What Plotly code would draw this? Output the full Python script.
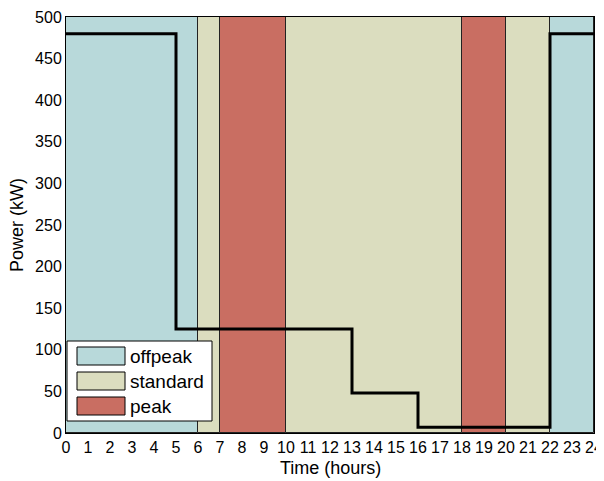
import plotly.graph_objects as go

# Tariff periods (start hour, end hour, category)
period_starts = [0, 6, 7, 10, 18, 20, 22]
period_ends = [6, 7, 10, 18, 20, 22, 24]
period_types = ["offpeak", "standard", "peak", "standard", "peak", "standard", "offpeak"]
categories = ["offpeak", "standard", "peak"]
colors = {"offpeak": "#b8d9da", "standard": "#dbddbf", "peak": "#c96e62"}

# Power step profile
step_hours = [0, 5, 13, 16, 22, 24]
step_power = [480, 125, 48, 7, 480, 480]

ymax = 500
x_ticks = list(range(0, 25))
y_ticks = list(range(0, 501, 50))

OFF = 8  # page body margin
W, H = 596, 473
# plot area in window pixels: x 66..594, y 17..433
L, R, T = 66 - OFF, W - (594 - OFF), 17 - OFF
B = H - (433 - OFF)
pw, ph = W - L - R, H - T - B

fig = go.Figure()
for cat in categories:
    xs, ws = [], []
    for s, e, t in zip(period_starts, period_ends, period_types):
        if t == cat:
            xs.append((s + e) / 2)
            ws.append(e - s)
    fig.add_trace(go.Bar(x=xs, y=[ymax] * len(xs), width=ws, base=0,
                         marker=dict(color=colors[cat], line=dict(color="#222", width=1)),
                         name=cat, showlegend=False, hoverinfo="skip"))

fig.add_trace(go.Scatter(x=step_hours, y=step_power, mode="lines",
                         line=dict(color="black", width=3, shape="hv"),
                         showlegend=False))

def px2x(px):
    return (px - OFF - L) / pw

def py2y(py):
    return (H - B - (py - OFF)) / ph

shapes = []
annotations = []
# legend box
shapes.append(dict(type="rect", xref="paper", yref="paper",
                   x0=px2x(67), x1=px2x(212), y0=py2y(421), y1=py2y(341),
                   fillcolor="white", line=dict(color="black", width=1)))
row_y = [356, 381, 406]
for cat, ry in zip(categories, row_y):
    shapes.append(dict(type="rect", xref="paper", yref="paper",
                       x0=px2x(77), x1=px2x(125), y0=py2y(ry + 9), y1=py2y(ry - 9),
                       fillcolor=colors[cat], line=dict(color="black", width=1)))
    annotations.append(dict(xref="paper", yref="paper", x=px2x(128), y=py2y(ry),
                            text=cat, showarrow=False, xanchor="left", yanchor="middle",
                            font=dict(size=19, color="black")))

# axis titles
annotations.append(dict(xref="paper", yref="paper", x=0.5, y=py2y(468),
                        text="Time (hours)", showarrow=False, xanchor="center", yanchor="middle",
                        font=dict(size=18, color="black")))
annotations.append(dict(xref="paper", yref="paper", x=px2x(17), y=0.5, textangle=-90,
                        text="Power (kW)", showarrow=False, xanchor="center", yanchor="middle",
                        font=dict(size=18, color="black")))

fig.update_layout(
    width=W, height=H,
    margin=dict(l=L, r=R, t=T, b=B),
    plot_bgcolor="white", paper_bgcolor="white",
    font=dict(family="Liberation Sans, Arial, sans-serif", size=16, color="black"),
    barmode="overlay", bargap=0,
    shapes=shapes, annotations=annotations,
    xaxis=dict(range=[0, 24], tickvals=x_ticks, ticktext=[str(v) for v in x_ticks],
               showgrid=False, zeroline=False, showline=True, linecolor="black", linewidth=1,
               mirror=True, ticks="", automargin=False, ticklabeloverflow="allow",
               tickfont=dict(size=16)),
    yaxis=dict(range=[0, ymax], tickvals=y_ticks, showgrid=False, zeroline=False,
               showline=True, linecolor="black", linewidth=1, mirror=True, ticks="",
               automargin=False, tickfont=dict(size=16)),
)
fig.write_html("out.html")
